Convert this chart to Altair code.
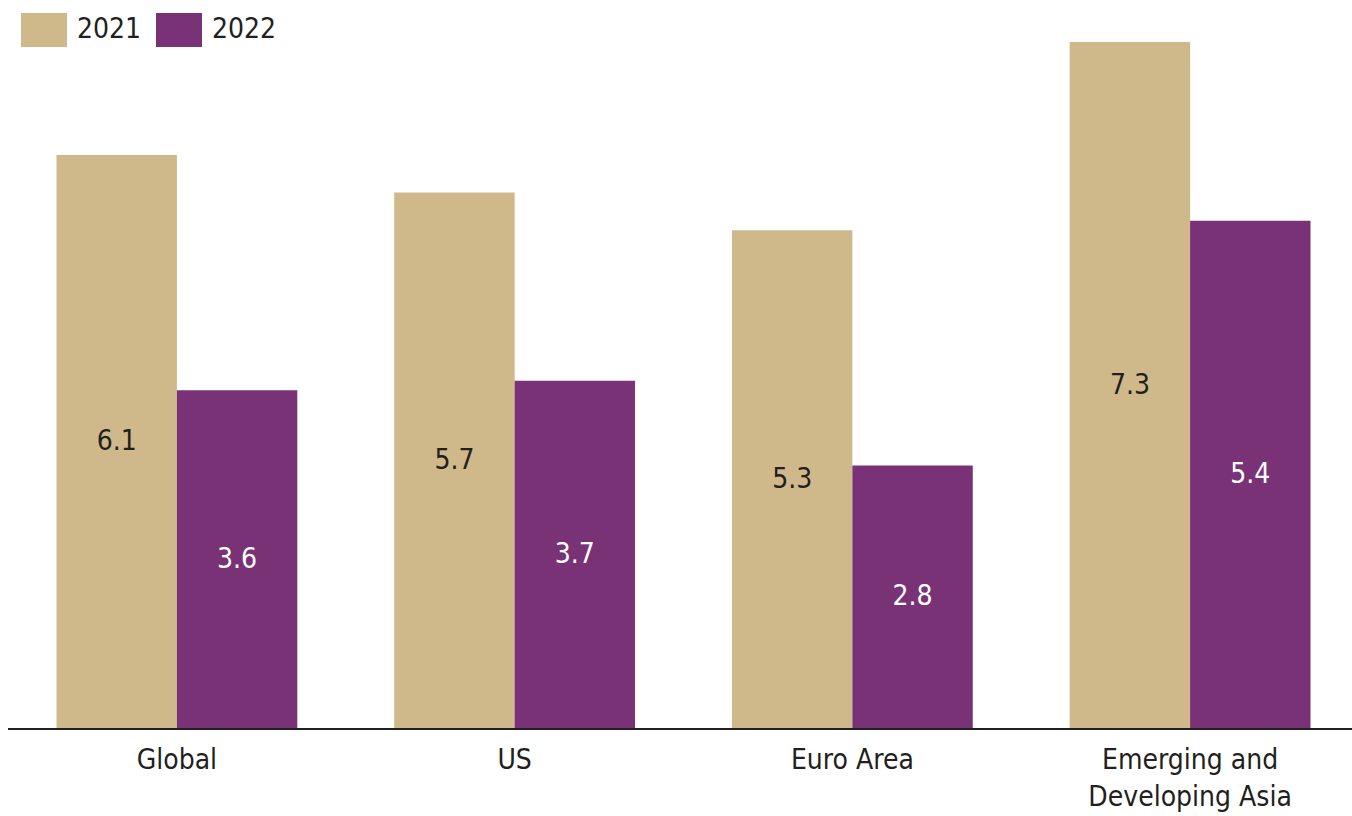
import altair as alt
import pandas as pd

regions = ["Global", "US", "Euro Area", "Emerging and Developing Asia"]
years = ["2021", "2022"]
v2021 = [6.1, 5.7, 5.3, 7.3]
v2022 = [3.6, 3.7, 2.8, 5.4]

rows = []
for r, a, b in zip(regions, v2021, v2022):
    rows.append({"region": r, "year": "2021", "value": a})
    rows.append({"region": r, "year": "2022", "value": b})
df = pd.DataFrame(rows)
df["mid"] = df["value"] / 2
df["label"] = df["value"].map(lambda v: f"{v:.1f}")

FONT = "DejaVu Sans Condensed, sans-serif"
FS = 28
DARK = "#231F20"
W, H = 1344, 687

x = alt.X("region:N", sort=regions, title=None,
          scale=alt.Scale(range=[48.5, 1302.5], paddingInner=0.287, paddingOuter=0),
          axis=alt.Axis(domain=False, ticks=False, labelAngle=0, labelFontSize=FS,
                        labelFont=FONT, labelColor=DARK, labelPadding=17,
                        labelLineHeight=37, labelBaseline="top", labelLimit=0,
                        labelExpr="datum.value == 'Emerging and Developing Asia' ? ['Emerging and', 'Developing Asia'] : datum.value"))
xo = alt.XOffset("year:N", sort=years, scale=alt.Scale(paddingInner=0, paddingOuter=0))
y = alt.Y("value:Q", scale=alt.Scale(domain=[0, 7.3], nice=False, zero=True), axis=None)

bars = alt.Chart(df).mark_bar(strokeWidth=0).encode(
    x=x, xOffset=xo, y=y,
    color=alt.Color("year:N", sort=years,
                    scale=alt.Scale(domain=years, range=["#CFB88A", "#7A3276"]),
                    legend=alt.Legend(title=None, orient="none", direction="horizontal",
                                      legendX=19, legendY=-29,
                                      symbolType="M-1.353,-1H1.353V1H-1.353Z",
                                      symbolSize=1156, symbolStrokeWidth=0,
                                      symbolOpacity=1, labelOffset=16,
                                      columnPadding=13, labelFontSize=FS,
                                      labelFont=FONT, labelColor=DARK)),
)

text = alt.Chart(df).mark_text(fontSize=FS, font=FONT, baseline="middle", align="center").encode(
    x=x, xOffset=xo,
    y=alt.Y("mid:Q"),
    text="label:N",
    color=alt.condition("datum.year == '2021'", alt.value(DARK), alt.value("white")),
)

base_df = pd.DataFrame({"z": [0]})
rule = alt.Chart(base_df).mark_rule(color=DARK, strokeWidth=2, strokeCap="butt").encode(
    y=alt.Y("z:Q"), x=alt.value(0), x2=alt.value(W),
)

chart = alt.layer(bars, text, rule).properties(
    width=W, height=H,
    autosize=alt.AutoSizeParams(type="none"),
    padding={"left": 8, "top": 42, "right": 0, "bottom": 85},
).configure(background="white").configure_view(stroke=None, strokeWidth=0)

chart.save("out.html", embed_options={"renderer": "svg", "actions": False})
